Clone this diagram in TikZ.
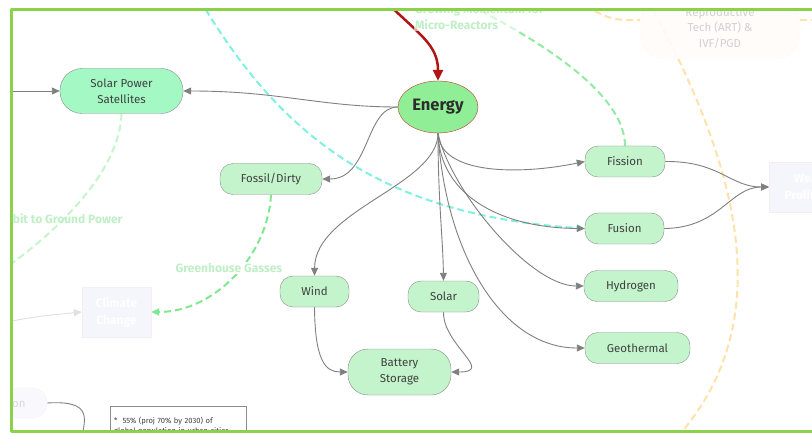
\documentclass[tikz,border=0pt]{standalone}
\usepackage{fontspec}
\setmainfont{Fira Sans}
\usepackage{tikz}
\usetikzlibrary{arrows.meta}
\usetikzlibrary{shapes.geometric}
\usetikzlibrary{backgrounds}
\definecolor{framegreen}{RGB}{139,209,74}
\definecolor{boxgreen}{RGB}{196,244,204}
\definecolor{mintgreen}{RGB}{163,248,196}
\definecolor{energygreen}{RGB}{143,238,150}
\definecolor{energyred}{RGB}{192,57,43}
\definecolor{darkred}{RGB}{176,20,20}
\definecolor{linegray}{RGB}{128,128,128}
\definecolor{bordergray}{RGB}{140,140,140}
\definecolor{textgray}{RGB}{64,64,64}
\definecolor{dashgreen}{RGB}{128,232,144}
\definecolor{palegreen}{RGB}{192,238,198}
\definecolor{cyandash}{RGB}{128,240,224}
\definecolor{peach}{RGB}{255,226,170}
\definecolor{ghost}{RGB}{245,245,252}
\definecolor{ghostpink}{RGB}{250,234,242}
\tikzset{source/.style={draw=bordergray,fill=boxgreen,text=textgray,
                        rounded corners=13pt,minimum height=31pt,inner sep=2pt,
                        align=center,font=\fontsize{11.5}{16}\selectfont}}
\tikzset{ghostbox/.style={draw=ghostpink,fill=ghost,text=white,align=center,
                          font=\bfseries\fontsize{12}{17}\selectfont}}
\tikzset{faintlabel/.style={text=palegreen,align=left,
                            font=\bfseries\fontsize{12}{16}\selectfont}}

\begin{document}
\begin{tikzpicture}[x=1pt,y=-1pt,>={Triangle[length=8pt,width=7pt]},line join=round]
  \tikzstyle{link}=[draw=linegray,line width=0.9pt,->]
  \tikzstyle{hint}=[dash pattern=on 7pt off 4pt,line width=2pt]
  \useasboundingbox (0,0) rectangle (812,433);

  % Everything inside the green frame is cut at its edges
  \begin{scope}
  \clip (11,10) rectangle (812,431);

  % Energy and its sources
  \node (energy) [ellipse,draw=energyred,fill=energygreen,minimum width=80pt,
                  minimum height=52pt,inner sep=0pt,text=textgray!70!black,
                  font=\bfseries\fontsize{16.5}{18}\selectfont] at (438,107) {Energy};
  \node (sps) [source,fill=mintgreen,rounded corners=22pt,minimum width=123pt,
               minimum height=45pt] at (121.5,91) {Solar Power\\Satellites};
  \node (fossil)     [source,minimum width=102pt] at (271,179)     {Fossil/Dirty};
  \node (fission)    [source,minimum width=80pt]  at (625,161.5)   {Fission};
  \node (fusion)     [source,minimum width=79pt]  at (624.5,228.5) {Fusion};
  \node (hydrogen)   [source,minimum width=94pt]  at (631,286)     {Hydrogen};
  \node (geothermal) [source,minimum width=105pt] at (637.5,348)   {Geothermal};
  \node (wind)       [source,minimum width=69pt]  at (314.5,291.5) {Wind};
  \node (solar)      [source,minimum width=71pt]  at (443.5,296.5) {Solar};
  \node (battery) [source,rounded corners=20pt,minimum width=103pt,
                   minimum height=46pt] at (399.5,372) {Battery\\Storage};

  % Faded parts of the wider map
  \node (climate) [ghostbox,minimum width=69pt,minimum height=50pt] at (116.5,312) {Climate\\Change};
  \node (weapons) [ghostbox,minimum width=100pt,minimum height=50pt,anchor=west] at (769,187) {Weapons\\Proliferation};
  \node (repro) [draw=peach!25,fill=orange!2,fill opacity=0.9,text opacity=1,text=black!18,
                 rounded corners=26pt,minimum width=160pt,minimum height=62pt,align=center,
                 font=\fontsize{11.5}{15.5}\selectfont] at (720,28) {Reproductive\\Tech (ART) \&\\IVF/PGD};
  \node (urban) [draw=ghost,fill=ghost!60,text=black!15,rounded corners=14pt,
                 minimum width=110pt,minimum height=30pt,
                 font=\fontsize{11.5}{16}\selectfont] at (-8,403) {Urbanization};
  \node (note) [draw=bordergray,fill=white,text=textgray,anchor=north west,
                text width=128pt,minimum height=40pt,align=left,inner sep=4pt,
                font=\fontsize{7.6}{10.5}\selectfont] at (110,406)
                {*\ \ 55\% (proj 70\% by 2030) of\\global population in urban cities};

  % Labels on the dashed links
  \node (orbit)      [faintlabel,anchor=east] at (126,219) {Orbit to Ground Power};
  \node (greenhouse) [faintlabel,fill=white,inner sep=1pt] at (229,268) {Greenhouse Gasses};
  \node (micro)      [faintlabel,anchor=west,fill=white,fill opacity=0.6,text opacity=1,
                      inner sep=1pt] at (414,17) {Growing Momentum for\\Micro-Reactors};

  % Free ends of links that leave the frame
  \coordinate (redstart)    at (384,0);
  \coordinate (spsin)       at (0,91);
  \coordinate (cyanstart)   at (200,0);
  \coordinate (microend)    at (460,0);
  \coordinate (orbitend)    at (0,272);
  \coordinate (climatein)   at (0,323);
  \coordinate (urbanout)    at (80,445);
  \coordinate (peachtop)    at (648,0);
  \coordinate (peachbottom) at (670,445);
  \coordinate (peachin)     at (585,6);
  \coordinate (peachout)    at (830,20);
  \end{scope}

  % The links go under the nodes
  \begin{scope}[on background layer]
    \fill[white] (0,0) rectangle (812,433);
    \clip (11,10) rectangle (812,431);

    % dashed hints
    \draw[hint,peach] (peachtop) .. controls (730,150) and (790,320) .. (peachbottom);
    \draw[hint,peach] (peachin) .. controls (612,20) .. ([yshift=8pt]repro.west);
    \draw[hint,peach] ([yshift=8pt]repro.east) -- (peachout);
    \draw[hint,cyandash,->] (cyanstart) .. controls (280,135) and (380,215) .. (fusion.west);
    \draw[hint,dashgreen!85] (fission.north) .. controls (625,100) and (560,50) .. (microend);
    \draw[hint,dashgreen!45] (sps.south) .. controls (120,170) and (60,230) .. (orbitend);
    \draw[hint,dashgreen,->] (fossil.south) .. controls (268,255) and (215,312) .. (climate.east);

    % solid links
    \draw[->,darkred,line width=2.5pt,>={Triangle[length=11pt,width=10pt]}]
      (redstart) .. controls (420,35) and (438,45) .. (energy.north);
    \draw[link] (spsin) -- (sps.west);
    \draw[link] (energy.west) .. controls (320,107) and (280,91) .. (sps.east);
    \draw[link] (energy.west) .. controls (365,107) and (370,179) .. (fossil.east);
    \draw[link] (energy.south) .. controls (440,175) and (520,175) .. (fission.west);
    \draw[link] (energy.south) .. controls (440,195) and (500,228) .. (fusion.west);
    \draw[link] (energy.south) .. controls (450,190) and (530,286) .. (hydrogen.west);
    \draw[link] (energy.south) .. controls (445,250) and (500,348) .. (geothermal.west);
    \draw[link] (energy.south) .. controls (438,200) and (443,240) .. (solar.north);
    \draw[link] (energy.south) .. controls (438,185) and (315,210) .. (wind.north);
    \draw[link] (fission.east) .. controls (720,161) and (730,187) .. (weapons.west);
    \draw[link] (fusion.east) .. controls (720,228) and (730,187) .. (weapons.west);
    \draw[link] (wind.south) .. controls (315,360) and (325,372) .. (battery.west);
    \draw[link] (solar.south) .. controls (443,345) and (495,372) .. (battery.east);
    \draw[link,draw=black!12] (climatein) .. controls (40,316) .. (climate.west);
    \draw[draw=linegray,line width=0.9pt] (urban.east) .. controls (95,400) and (85,420) .. (urbanout);
  \end{scope}

  % The green frame
  \draw[framegreen,line width=3pt] (830,9.5) -- (11.5,9.5) -- (11.5,431) -- (830,431);
\end{tikzpicture}
\end{document}
